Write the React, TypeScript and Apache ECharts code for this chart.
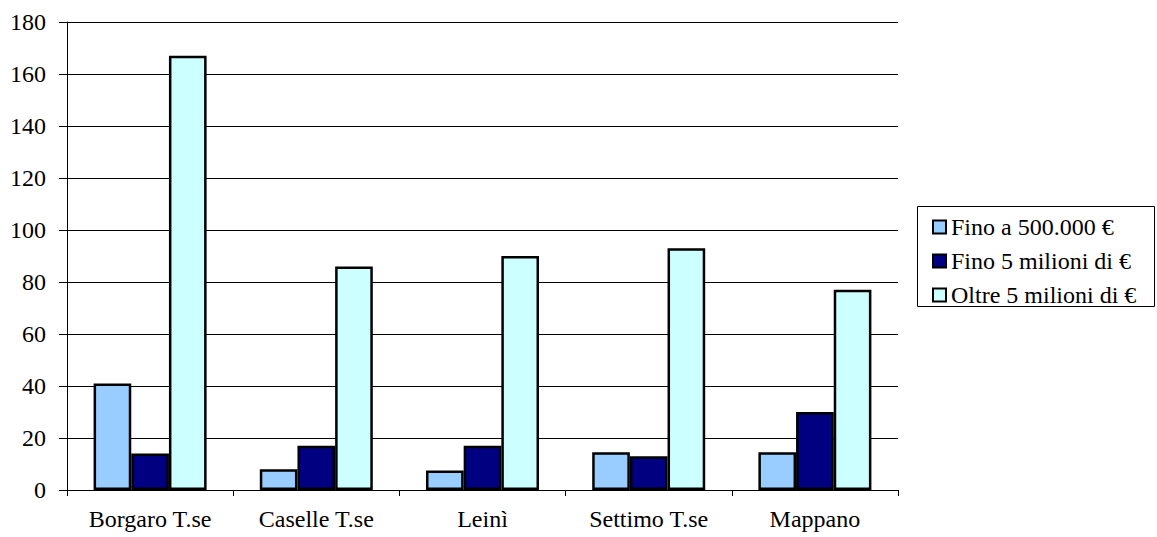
import React, { useEffect, useRef } from "react";
import * as echarts from "echarts";

const categories = ["Borgaro T.se", "Caselle T.se", "Leinì", "Settimo T.se", "Mappano"];
const seriesNames = ["Fino a 500.000 €", "Fino 5 milioni di €", "Oltre 5 milioni di €"];
const fino500k = [41, 8, 7.5, 14.5, 14.5];
const fino5m = [14, 17, 17, 13, 30];
const oltre5m = [167, 86, 90, 93, 77];
const colors = ["#99CCFF", "#000080", "#CCFFFF"];

const FONT = "Liberation Serif";
const FS = 24;

export default function App() {
  const ref = useRef<HTMLDivElement>(null);
  useEffect(() => {
    const chart = echarts.init(ref.current!, null, { renderer: "svg" });
    const data = [fino500k, fino5m, oltre5m];
    chart.setOption({
      animation: false,
      backgroundColor: "#ffffff",
      textStyle: { fontFamily: FONT },
      grid: { left: 67, right: 259, top: 22, bottom: 47, containLabel: false },
      xAxis: {
        type: "category",
        data: categories,
        boundaryGap: true,
        axisLine: { show: true, lineStyle: { color: "#000", width: 1 } },
        axisTick: { show: true, alignWithLabel: false, length: 6, lineStyle: { color: "#000" } },
        axisLabel: { color: "#000", fontSize: FS, fontFamily: FONT, margin: 17 },
        splitLine: { show: false },
      },
      yAxis: {
        type: "value",
        min: 0,
        max: 180,
        interval: 20,
        axisLine: { show: true, lineStyle: { color: "#000", width: 1 } },
        axisTick: { show: true, length: 8, lineStyle: { color: "#000" } },
        axisLabel: { color: "#000", fontSize: FS, fontFamily: FONT, margin: 21 },
        splitLine: { show: true, lineStyle: { color: "#000", width: 1 } },
      },
      legend: {
        orient: "vertical",
        left: 927,
        top: 210,
        itemWidth: 13,
        itemHeight: 13,
        itemGap: 10,
        itemTextGap: 5,
        icon: "rect",
        textStyle: { color: "#000", fontSize: FS, fontFamily: FONT },
        data: seriesNames,
      },
      graphic: [
        {
          type: "rect",
          shape: { x: 917.5, y: 206.5, width: 237, height: 100 },
          style: { fill: "none", stroke: "#000", lineWidth: 1 },
          z: 10,
        },
      ],
      series: seriesNames.map((name, i) => ({
        name,
        type: "bar",
        data: data[i],
        barGap: "0%",
        barCategoryGap: "32%",
        itemStyle: { color: colors[i], borderColor: "#000", borderWidth: 2.5 },
      })),
    });
    return () => chart.dispose();
  }, []);
  return (
    <div
      ref={ref}
      style={{ position: "fixed", left: 0, top: 0, width: 1157, height: 537 }}
    />
  );
}
